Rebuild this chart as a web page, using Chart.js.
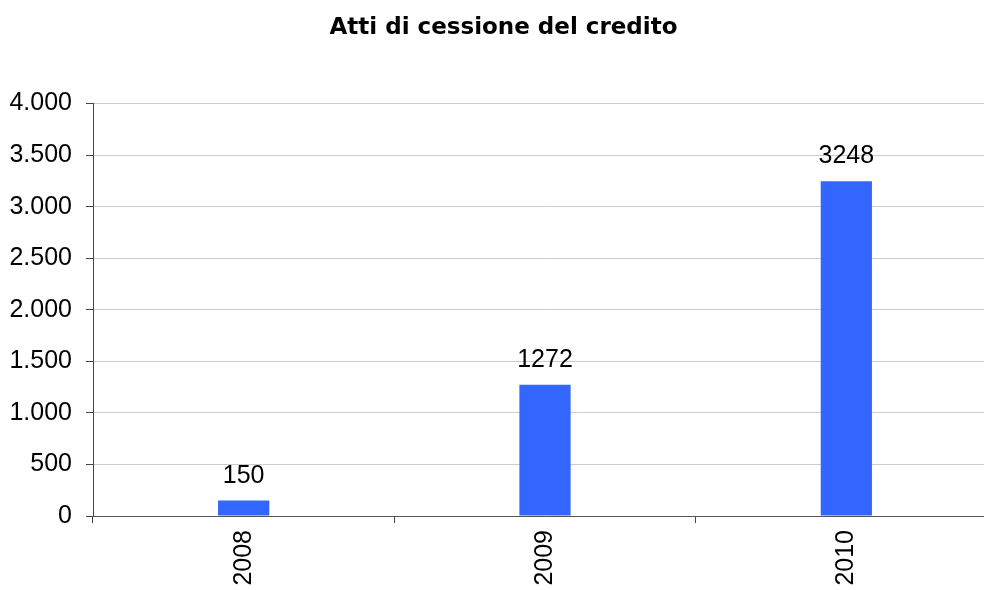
<!DOCTYPE html>
<html>
<head>
<meta charset="utf-8">
<script src="https://cdn.jsdelivr.net/npm/chart.js@4"></script>
<style>
  html, body { margin: 0; padding: 0; background: #fff; overflow: hidden; }
  #wrap { width: 984px; height: 590px; overflow: hidden; }
</style>
</head>
<body>
<div id="wrap"><canvas id="chart" width="1000" height="590"></canvas></div>
<script>
const categories = ['2008', '2009', '2010']
const values = [150, 1272, 3248]
const yTicks = [0, 500, 1000, 1500, 2000, 2500, 3000, 3500, 4000]

const FONT = "'Liberation Sans', Arial, sans-serif"
const TITLE_FONT = "'DejaVu Sans', Verdana, sans-serif"

// thousands separator like the Italian original: 4.000
const fmt = v => String(v).replace(/\B(?=(\d{3})+(?!\d))/g, '.')

// little inline plugin, no datalabels available offline
const valueLabels = {
  id: 'valueLabels',
  afterDatasetsDraw(chart) {
    const ctx = chart.ctx
    const meta = chart.getDatasetMeta(0)
    ctx.save()
    ctx.font = '25px ' + FONT
    ctx.fillStyle = '#000'
    ctx.textAlign = 'center'
    ctx.textBaseline = 'alphabetic'
    meta.data.forEach((bar, i) => {
      ctx.fillText(values[i], bar.x, bar.y - 18)
    })
    ctx.restore()
  }
}

// the original plot runs a little past the right edge of the picture,
// so the canvas is wider than the window and gets clipped
new Chart(document.getElementById('chart'), {
  type: 'bar',
  data: {
    labels: categories,
    datasets: [{
      data: values,
      backgroundColor: '#3366FF',
      borderWidth: 0,
      barPercentage: 0.17,
      categoryPercentage: 1
    }]
  },
  options: {
    responsive: false,
    devicePixelRatio: 1,
    animation: false,
    layout: { padding: { left: 10, right: 3, top: 0, bottom: 0 } },
    scales: {
      x: {
        offset: true,
        afterFit(axis) { axis.height = 74 },
        grid: {
          offset: true,
          drawOnChartArea: false,
          drawTicks: true,
          tickLength: 7,
          tickColor: '#444',
          color: '#444'
        },
        border: { color: '#555', width: 1 },
        ticks: {
          minRotation: 90,
          maxRotation: 90,
          color: '#000',
          padding: 7,
          font: { family: FONT, size: 25 }
        }
      },
      y: {
        min: 0,
        max: 4000,
        afterFit(axis) { axis.width = 83 },
        afterBuildTicks(axis) {
          axis.ticks = yTicks.map(v => ({ value: v }))
        },
        grid: {
          color: '#cccccc',
          tickColor: '#444',
          tickLength: 7,
          drawTicks: true
        },
        border: { color: '#444', width: 1 },
        ticks: {
          color: '#000',
          padding: 14,
          font: { family: FONT, size: 25 },
          callback: v => fmt(v)
        }
      }
    },
    plugins: {
      legend: { display: false },
      tooltip: { enabled: false },
      title: {
        display: true,
        text: 'Atti di cessione del credito',
        color: '#000',
        font: { family: TITLE_FONT, size: 23, weight: 'bold' },
        padding: { top: 14, bottom: 62 }
      }
    }
  },
  plugins: [valueLabels]
})
</script>
</body>
</html>
